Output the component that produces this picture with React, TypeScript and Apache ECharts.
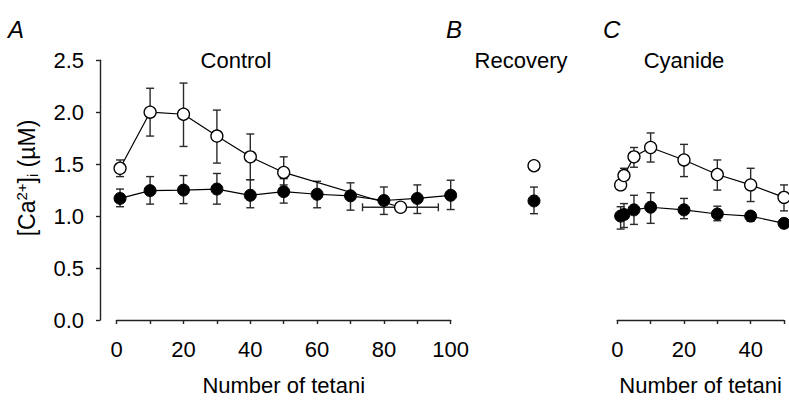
import React, { useEffect, useRef } from "react";
import * as echarts from "echarts";

// Panel A — Control
const ctrlOpenX = [1, 10, 20, 30, 40, 50, 85];
const ctrlOpenY = [1.46, 2.0, 1.98, 1.77, 1.57, 1.42, 1.085];
const ctrlOpenLo = [1.38, 1.77, 1.67, 1.51, 1.35, 1.3, null];
const ctrlOpenHi = [1.54, 2.23, 2.28, 2.02, 1.79, 1.57, null];
const ctrlOpenXErr = [[73.6, 96.3, 1.085]]; // [xLow, xHigh, y] for t = 85

const ctrlFillX = [1, 10, 20, 30, 40, 50, 60, 70, 80, 90, 100];
const ctrlFillY = [1.17, 1.245, 1.25, 1.26, 1.2, 1.235, 1.21, 1.195, 1.15, 1.17, 1.2];
const ctrlFillLo = [1.09, 1.115, 1.12, 1.115, 1.08, 1.125, 1.08, 1.057, 1.016, 1.025, 1.063];
const ctrlFillHi = [1.26, 1.38, 1.39, 1.41, 1.35, 1.36, 1.335, 1.32, 1.28, 1.3, 1.345];

// Panel B — Recovery
const recOpenY = 1.51;
const recFillY = 1.18;
const recFillLo = 1.06;
const recFillHi = 1.31;

// Panel C — Cyanide
const cyX = [1, 2, 5, 10, 20, 30, 40, 50];
const cyOpenY = [1.3, 1.39, 1.57, 1.66, 1.54, 1.4, 1.3, 1.18];
const cyOpenLo = [null, null, 1.47, 1.52, 1.38, 1.25, 1.14, 1.05];
const cyOpenHi = [null, 1.46, 1.66, 1.8, 1.69, 1.54, 1.46, 1.3];
const cyFillY = [1.0, 1.015, 1.06, 1.085, 1.06, 1.02, 1.0, 0.93];
const cyFillLo = [0.875, 0.89, 0.92, 0.93, 0.975, 0.955, 0.95, 0.9];
const cyFillHi = [1.09, 1.12, 1.2, 1.225, 1.17, 1.095, 1.04, 0.97];

const yTicks = [0, 0.5, 1.0, 1.5, 2.0, 2.5];

const FONT = "'Liberation Sans', Arial, sans-serif";
const AX = "#222";
const FS = 22;

function pts(xs: number[], ys: number[]) {
  return xs.map((x, i) => [x, ys[i]]);
}
function errs(xs: number[], ys: number[], lo: (number | null)[], hi: (number | null)[]) {
  return xs.map((x, i) => [x, lo[i] == null ? ys[i] : lo[i], hi[i] == null ? ys[i] : hi[i]]);
}

const CAP = 4;
function vErrRender(params: any, api: any) {
  const x = api.value(0);
  const lo = api.coord([x, api.value(1)]);
  const hi = api.coord([x, api.value(2)]);
  const style = { stroke: "#2a2a2a", lineWidth: 1.4, fill: null };
  return {
    type: "group",
    children: [
      { type: "line", shape: { x1: lo[0], y1: lo[1], x2: hi[0], y2: hi[1] }, style },
      { type: "line", shape: { x1: lo[0] - CAP, y1: lo[1], x2: lo[0] + CAP, y2: lo[1] }, style },
      { type: "line", shape: { x1: hi[0] - CAP, y1: hi[1], x2: hi[0] + CAP, y2: hi[1] }, style },
    ],
  };
}
function hErrRender(params: any, api: any) {
  const y = api.value(2);
  const a = api.coord([api.value(0), y]);
  const b = api.coord([api.value(1), y]);
  const style = { stroke: "#2a2a2a", lineWidth: 1.4, fill: null };
  return {
    type: "group",
    children: [
      { type: "line", shape: { x1: a[0], y1: a[1], x2: b[0], y2: b[1] }, style },
      { type: "line", shape: { x1: a[0], y1: a[1] - CAP, x2: a[0], y2: a[1] + CAP }, style },
      { type: "line", shape: { x1: b[0], y1: b[1] - CAP, x2: b[0], y2: b[1] + CAP }, style },
    ],
  };
}

const openStyle = { color: "#fff", borderColor: "#000", borderWidth: 1.3, opacity: 1 };
const fillStyle = { color: "#000", borderColor: "#000", borderWidth: 1, opacity: 1 };
const lineStyle = { color: "#000", width: 1.2 };

export default function App() {
  const ref = useRef<HTMLDivElement>(null);
  useEffect(() => {
    if (!ref.current) return;
    const chart = echarts.init(ref.current, null, { renderer: "svg" });
    const gridTop = 60.2;
    const gridH = 266.5;
    const tickLabel = { fontFamily: FONT, fontSize: FS, color: "#000" };
    const xName = {
      name: "Number of tetani",
      nameLocation: "middle" as const,
      nameGap: 54,
      nameTextStyle: { fontFamily: FONT, fontSize: FS, color: "#000" },
    };
    const xAxisCommon = {
      type: "value",
      axisLine: { show: true, onZero: false, lineStyle: { color: AX, width: 1.4 } },
      axisTick: { show: true, length: 4, lineStyle: { color: AX, width: 1.4 } },
      splitLine: { show: false },
      axisLabel: { ...tickLabel, margin: 18, formatter: (v: number) => (v % 20 === 0 ? String(v) : "") },
      ...xName,
    };
    const option: any = {
      animation: false,
      backgroundColor: "#fff",
      grid: [
        { left: 116.7, top: gridTop, width: 334, height: gridH },
        { left: 524, top: gridTop, width: 20, height: gridH },
        { left: 617.3, top: gridTop, width: 166.7, height: gridH },
      ],
      xAxis: [
        { ...xAxisCommon, gridIndex: 0, min: 0, max: 100, interval: 10 },
        { gridIndex: 1, type: "value", min: 0, max: 2, show: false },
        { ...xAxisCommon, gridIndex: 2, min: 0, max: 50, interval: 10 },
      ],
      yAxis: [
        {
          gridIndex: 0, type: "value", min: yTicks[0], max: yTicks[yTicks.length - 1], interval: 0.5,
          offset: 16.7,
          axisLine: { show: true, onZero: false, lineStyle: { color: AX, width: 1.4 } },
          axisTick: { show: true, length: 4, lineStyle: { color: AX, width: 1.4 } },
          splitLine: { show: false },
          axisLabel: { ...tickLabel, margin: 16, formatter: (v: number) => v.toFixed(1) },
        },
        { gridIndex: 1, type: "value", min: 0, max: 2.5, show: false },
        { gridIndex: 2, type: "value", min: 0, max: 2.5, show: false },
      ],
      graphic: [
        { type: "text", left: 8, top: 17, style: { text: "A", font: `italic 24px ${FONT}`, fill: "#000" } },
        { type: "text", left: 446, top: 17, style: { text: "B", font: `italic 24px ${FONT}`, fill: "#000" } },
        { type: "text", left: 603, top: 17, style: { text: "C", font: `italic 24px ${FONT}`, fill: "#000" } },
        { type: "text", x: 236, y: 60, style: { text: "Control", font: `${FS}px ${FONT}`, fill: "#000", textAlign: "center", textVerticalAlign: "middle" } },
        { type: "text", x: 521, y: 60, style: { text: "Recovery", font: `${FS}px ${FONT}`, fill: "#000", textAlign: "center", textVerticalAlign: "middle" } },
        { type: "text", x: 684, y: 60, style: { text: "Cyanide", font: `${FS}px ${FONT}`, fill: "#000", textAlign: "center", textVerticalAlign: "middle" } },
        {
          type: "text", x: 27, y: 178, rotation: Math.PI / 2,
          style: {
            text: "[Ca{sup|2+}]{sub|i} (µM)",
            font: `23px ${FONT}`,
            fill: "#000",
            textAlign: "center",
            textVerticalAlign: "middle",
            rich: {
              sup: { fontFamily: FONT, fontSize: 15, verticalAlign: "top", padding: [0, 0, 11, 0] },
              sub: { fontFamily: FONT, fontSize: 15, verticalAlign: "bottom", padding: [9, 0, 0, 0] },
            },
          },
        },
      ],
      series: [
        // Panel A
        { type: "custom", xAxisIndex: 0, yAxisIndex: 0, renderItem: vErrRender, data: errs(ctrlOpenX, ctrlOpenY, ctrlOpenLo, ctrlOpenHi), z: 1 },
        { type: "custom", xAxisIndex: 0, yAxisIndex: 0, renderItem: vErrRender, data: errs(ctrlFillX, ctrlFillY, ctrlFillLo, ctrlFillHi), z: 1 },
        { type: "custom", xAxisIndex: 0, yAxisIndex: 0, renderItem: hErrRender, data: ctrlOpenXErr, z: 1 },
        { type: "line", xAxisIndex: 0, yAxisIndex: 0, data: pts(ctrlOpenX, ctrlOpenY), symbol: "circle", symbolSize: 12, showAllSymbol: true, itemStyle: openStyle, lineStyle, z: 2 },
        { type: "line", xAxisIndex: 0, yAxisIndex: 0, data: pts(ctrlFillX, ctrlFillY), symbol: "circle", symbolSize: 12, showAllSymbol: true, itemStyle: fillStyle, lineStyle, z: 3 },
        // Panel B
        { type: "custom", xAxisIndex: 1, yAxisIndex: 1, renderItem: vErrRender, data: [[1, recFillLo, recFillHi]], z: 1 },
        { type: "scatter", xAxisIndex: 1, yAxisIndex: 1, data: [[1, recOpenY]], symbol: "circle", symbolSize: 12, itemStyle: openStyle, z: 2 },
        { type: "scatter", xAxisIndex: 1, yAxisIndex: 1, data: [[1, recFillY]], symbol: "circle", symbolSize: 12, itemStyle: fillStyle, z: 3 },
        // Panel C
        { type: "custom", xAxisIndex: 2, yAxisIndex: 2, renderItem: vErrRender, data: errs(cyX, cyOpenY, cyOpenLo, cyOpenHi), z: 1 },
        { type: "custom", xAxisIndex: 2, yAxisIndex: 2, renderItem: vErrRender, data: errs(cyX, cyFillY, cyFillLo, cyFillHi), z: 1 },
        { type: "line", xAxisIndex: 2, yAxisIndex: 2, data: pts(cyX, cyOpenY), symbol: "circle", symbolSize: 12, showAllSymbol: true, itemStyle: openStyle, lineStyle, z: 2 },
        { type: "line", xAxisIndex: 2, yAxisIndex: 2, data: pts(cyX, cyFillY), symbol: "circle", symbolSize: 12, showAllSymbol: true, itemStyle: fillStyle, lineStyle, z: 3 },
      ],
    };
    chart.setOption(option);
    return () => chart.dispose();
  }, []);
  return <div ref={ref} style={{ width: 789, height: 401, position: "absolute", left: 0, top: 0 }} />;
}
